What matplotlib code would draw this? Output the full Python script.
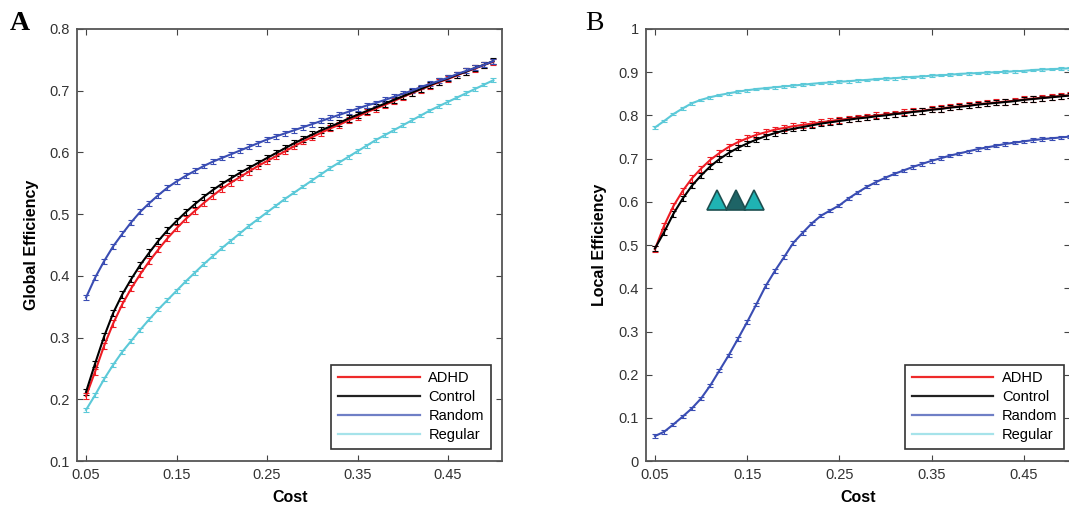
import numpy as np
import matplotlib
matplotlib.use("Agg")
import matplotlib.pyplot as plt
from matplotlib.lines import Line2D
from matplotlib.ticker import FormatStrFormatter, FuncFormatter

plt.rcParams["font.family"] = ["Liberation Sans", "DejaVu Sans"]

# cost thresholds (0.05 ... 0.50, step 0.01)
cost = [0.05, 0.06, 0.07, 0.08, 0.09, 0.10, 0.11, 0.12, 0.13, 0.14,
        0.15, 0.16, 0.17, 0.18, 0.19, 0.20, 0.21, 0.22, 0.23, 0.24,
        0.25, 0.26, 0.27, 0.28, 0.29, 0.30, 0.31, 0.32, 0.33, 0.34,
        0.35, 0.36, 0.37, 0.38, 0.39, 0.40, 0.41, 0.42, 0.43, 0.44,
        0.45, 0.46, 0.47, 0.48, 0.49, 0.50]

labels = ["ADHD", "Control", "Random", "Regular"]

# panel A: global efficiency
ge_adhd = [0.205, 0.245, 0.287, 0.323, 0.354, 0.380, 0.403, 0.424, 0.443, 0.461,
           0.477, 0.492, 0.505, 0.518, 0.530, 0.541, 0.551, 0.560, 0.569, 0.578,
           0.586, 0.594, 0.602, 0.610, 0.618, 0.625, 0.632, 0.639, 0.645, 0.652,
           0.658, 0.665, 0.671, 0.677, 0.683, 0.690, 0.696, 0.702, 0.708, 0.714,
           0.719, 0.725, 0.731, 0.736, 0.742, 0.747]
ge_control = [0.212, 0.258, 0.302, 0.340, 0.370, 0.395, 0.418, 0.438, 0.457, 0.474,
              0.489, 0.503, 0.516, 0.528, 0.539, 0.549, 0.558, 0.567, 0.575, 0.583,
              0.591, 0.599, 0.607, 0.615, 0.622, 0.629, 0.636, 0.642, 0.648, 0.655,
              0.661, 0.667, 0.673, 0.679, 0.685, 0.691, 0.697, 0.703, 0.709, 0.715,
              0.720, 0.726, 0.731, 0.737, 0.742, 0.748]
ge_random = [0.365, 0.397, 0.424, 0.448, 0.468, 0.487, 0.504, 0.518, 0.531, 0.543,
             0.553, 0.562, 0.570, 0.578, 0.585, 0.591, 0.597, 0.603, 0.609, 0.615,
             0.621, 0.626, 0.631, 0.636, 0.641, 0.646, 0.651, 0.656, 0.661, 0.666,
             0.671, 0.676, 0.680, 0.685, 0.690, 0.695, 0.700, 0.706, 0.711, 0.716,
             0.721, 0.727, 0.732, 0.737, 0.742, 0.748]
ge_regular = [0.183, 0.207, 0.233, 0.256, 0.277, 0.295, 0.313, 0.330, 0.346, 0.361,
              0.376, 0.391, 0.405, 0.419, 0.432, 0.445, 0.457, 0.469, 0.481, 0.492,
              0.503, 0.514, 0.525, 0.535, 0.545, 0.555, 0.565, 0.575, 0.584, 0.593,
              0.602, 0.611, 0.620, 0.628, 0.636, 0.644, 0.652, 0.660, 0.668, 0.675,
              0.682, 0.689, 0.696, 0.703, 0.710, 0.717]

# panel B: local efficiency
le_adhd = [0.490, 0.545, 0.590, 0.625, 0.654, 0.677, 0.697, 0.713, 0.727, 0.738,
           0.747, 0.755, 0.761, 0.767, 0.771, 0.775, 0.778, 0.781, 0.784, 0.787,
           0.790, 0.792, 0.795, 0.797, 0.800, 0.802, 0.804, 0.807, 0.809, 0.811,
           0.814, 0.816, 0.819, 0.821, 0.823, 0.826, 0.828, 0.830, 0.832, 0.834,
           0.837, 0.839, 0.841, 0.843, 0.845, 0.847]
le_control = [0.492, 0.530, 0.572, 0.607, 0.637, 0.661, 0.682, 0.699, 0.713, 0.725,
              0.735, 0.744, 0.752, 0.759, 0.765, 0.769, 0.773, 0.777, 0.781, 0.784,
              0.787, 0.790, 0.793, 0.795, 0.798, 0.800, 0.803, 0.805, 0.808, 0.810,
              0.813, 0.815, 0.818, 0.820, 0.822, 0.825, 0.827, 0.829, 0.831, 0.833,
              0.836, 0.838, 0.840, 0.842, 0.844, 0.846]
le_random = [0.058, 0.068, 0.085, 0.103, 0.122, 0.145, 0.175, 0.210, 0.245, 0.283,
             0.322, 0.363, 0.405, 0.440, 0.472, 0.505, 0.528, 0.550, 0.568, 0.580,
             0.592, 0.608, 0.622, 0.635, 0.646, 0.656, 0.665, 0.673, 0.681, 0.688,
             0.695, 0.701, 0.707, 0.712, 0.717, 0.722, 0.726, 0.730, 0.734, 0.737,
             0.740, 0.743, 0.745, 0.747, 0.749, 0.751]
le_regular = [0.772, 0.787, 0.803, 0.816, 0.828, 0.836, 0.842, 0.847, 0.851, 0.855,
              0.858, 0.861, 0.863, 0.865, 0.867, 0.869, 0.871, 0.873, 0.875, 0.876,
              0.878, 0.879, 0.881, 0.882, 0.884, 0.885, 0.886, 0.888, 0.889, 0.890,
              0.892, 0.893, 0.894, 0.896, 0.897, 0.898, 0.899, 0.900, 0.901, 0.902,
              0.903, 0.905, 0.906, 0.907, 0.908, 0.909]

# error bar half widths per group
err_a = [0.005, 0.005, 0.004, 0.003]
err_b = [0.007, 0.006, 0.004, 0.003]

# the three small triangle glyphs in panel B
tri_x = [0.117, 0.138, 0.157]
tri_y = [0.604, 0.604, 0.604]
tri_colors = ["#1fb3b3", "#1e6466", "#1fb3b3"]

colors = ["#ee1c24", "#000000", "#3a4db3", "#5cc9d8"]
legend_colors = ["#ee2a2a", "#222222", "#6f7fc6", "#a6e3ea"]


def draw_panel(ax, series, errs, ylim, yticks, ylabel, fmt):
    for vals, err, col in zip(series, errs, colors):
        ax.errorbar(cost, vals, yerr=err, color=col, lw=1.5,
                    elinewidth=0.8, capsize=2.0, capthick=0.8)
    ax.set_xlim(0.04, 0.51)
    ax.set_ylim(*ylim)
    ax.set_xticks([0.05, 0.15, 0.25, 0.35, 0.45])
    ax.xaxis.set_major_formatter(FormatStrFormatter("%.2f"))
    ax.set_yticks(yticks)
    ax.yaxis.set_major_formatter(fmt)
    ax.tick_params(direction="in", top=True, right=True, length=4,
                   labelsize=10.5, colors="#444444", labelcolor="#333333", pad=5)
    for s in ax.spines.values():
        s.set_color("#555555")
        s.set_linewidth(1.3)
    ax.set_xlabel("Cost", fontsize=11.5, fontweight="bold", labelpad=6)
    ax.set_ylabel(ylabel, fontsize=11.5, fontweight="bold", labelpad=8)
    handles = [Line2D([0], [0], color=c, lw=1.6) for c in legend_colors]
    leg = ax.legend(handles, labels, loc="lower right", fontsize=10.5,
                    handlelength=5.6, handletextpad=0.6, labelspacing=0.35,
                    borderpad=0.45, borderaxespad=0, fancybox=False,
                    framealpha=1, edgecolor="#333333",
                    bbox_to_anchor=(0.972, 0.028))
    leg.get_frame().set_linewidth(1.2)


fig = plt.figure(figsize=(10.69, 5.17), dpi=100)
ax_a = fig.add_axes([0.072, 0.108, 0.398, 0.836])
ax_b = fig.add_axes([0.604, 0.108, 0.397, 0.836])

draw_panel(ax_a, [ge_adhd, ge_control, ge_random, ge_regular], err_a,
           (0.1, 0.8), np.arange(0.1, 0.81, 0.1), "Global Efficiency",
           FormatStrFormatter("%.1f"))
draw_panel(ax_b, [le_adhd, le_control, le_random, le_regular], err_b,
           (0, 1), np.arange(0, 1.01, 0.1), "Local Efficiency",
           FuncFormatter(lambda v, p: "%g" % round(v, 1)))
ax_b.set_xlim(0.04, 0.50)
ax_b.get_legend().set_bbox_to_anchor((0.986, 0.028))

for tx, ty, tc in zip(tri_x, tri_y, tri_colors):
    ax_b.plot(tx, ty, ls="none", marker="^", markersize=15,
              markerfacecolor=tc, markeredgecolor="#1d4f50", markeredgewidth=1.2)

fig.text(0.009, 0.978, "A", fontsize=20, fontweight="bold",
         family="Liberation Serif", va="top", ha="left")
fig.text(0.547, 0.978, "B", fontsize=20, family="Liberation Serif",
         va="top", ha="left")

fig.savefig("out.png", dpi=100)
